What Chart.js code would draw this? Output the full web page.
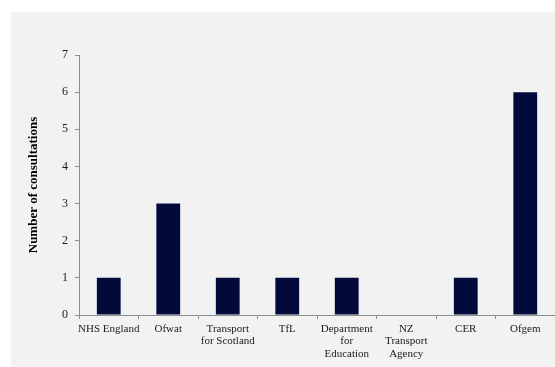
<!DOCTYPE html>
<html lang="en">
<head>
<meta charset="UTF-8">
<title>Number of consultations</title>
<script src="https://cdn.jsdelivr.net/npm/chart.js"></script>
<style>
  html, body { margin: 0; padding: 0; background: #ffffff; }
  #panel { position: absolute; left: 11px; top: 12px; width: 544px; height: 355px; background: #f2f2f2; }
</style>
</head>
<body>
<div id="panel"><canvas id="chart" width="544" height="355"></canvas></div>
<script>
// data
const categories = ['NHS England', 'Ofwat', ['Transport', 'for Scotland'], 'TfL',
    ['Department', 'for', 'Education'], ['NZ', 'Transport', 'Agency'], 'CER', 'Ofgem'];
const consultations = [1, 3, 1, 1, 1, 0, 1, 6];
const yTicks = [0, 1, 2, 3, 4, 5, 6, 7];

const axisColor = '#8c8c8c';

new Chart(document.getElementById('chart'), {
    type: 'bar',
    data: {
        labels: categories,
        datasets: [{
            label: 'Number of consultations',
            data: consultations,
            backgroundColor: '#020a3c',
            barPercentage: 0.4,
            categoryPercentage: 1
        }]
    },
    options: {
        responsive: false,
        animation: false,
        devicePixelRatio: 1,
        layout: { padding: { top: 43, right: 0, left: 0, bottom: 0 } },
        plugins: { legend: { display: false }, tooltip: { enabled: false } },
        scales: {
            x: {
                grid: { drawOnChartArea: false, drawTicks: true, tickLength: 4, color: axisColor, offset: true },
                border: { display: true, color: axisColor },
                ticks: {
                    color: '#1a1a1a',
                    font: { family: 'Liberation Serif', size: 11, lineHeight: 1.12 },
                    padding: 4, maxRotation: 0, autoSkip: false
                },
                afterFit: s => { s.height = 52; }
            },
            y: {
                min: 0,
                max: 7,
                afterBuildTicks: s => { s.ticks = yTicks.map(v => ({ value: v })); },
                grid: { drawOnChartArea: false, drawTicks: true, tickLength: 4, color: axisColor },
                border: { display: true, color: axisColor },
                ticks: { color: '#1a1a1a', font: { family: 'Liberation Serif', size: 12 }, padding: 7 },
                title: {
                    display: true,
                    text: 'Number of consultations',
                    color: '#000000',
                    font: { family: 'Liberation Serif', size: 13, weight: 'bold' },
                    padding: { top: 15, bottom: 0 }
                },
                afterFit: s => { s.width = 68; }
            }
        }
    }
});
</script>
</body>
</html>
